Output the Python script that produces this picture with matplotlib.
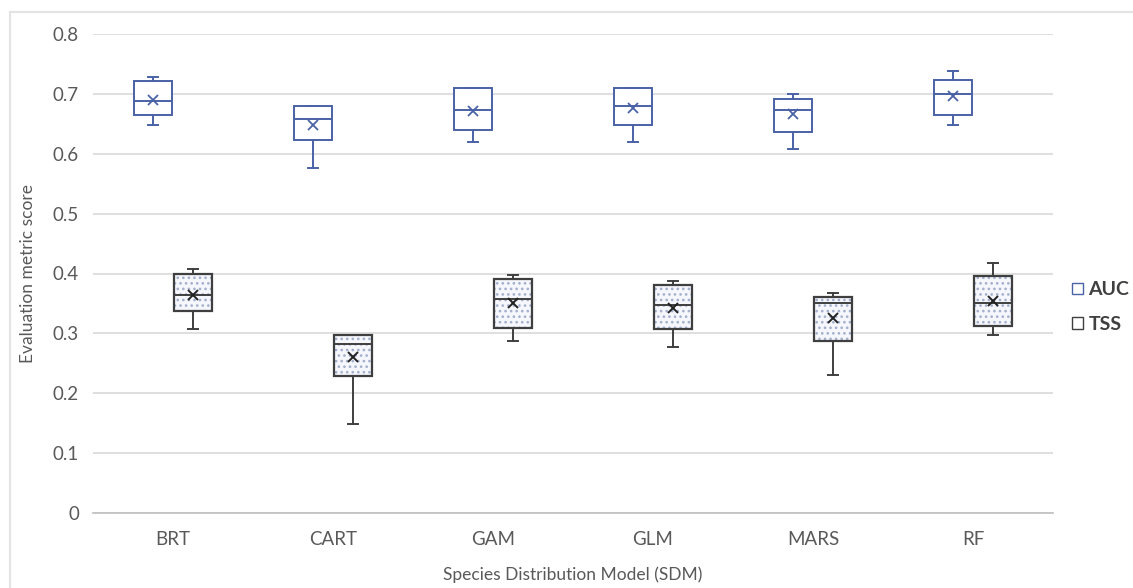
import matplotlib
matplotlib.use("Agg")
import matplotlib.pyplot as plt
from matplotlib.patches import Patch
from matplotlib.lines import Line2D
import matplotlib as mpl

plt.rcParams['font.family'] = ['Lato', 'DejaVu Sans']
mpl.rcParams['hatch.linewidth'] = 1.1

categories = ["BRT", "CART", "GAM", "GLM", "MARS", "RF"]

auc_whislo = [0.648, 0.577, 0.619, 0.619, 0.608, 0.648]
auc_q1     = [0.664, 0.623, 0.640, 0.648, 0.637, 0.664]
auc_med    = [0.688, 0.658, 0.673, 0.680, 0.673, 0.699]
auc_q3     = [0.722, 0.679, 0.709, 0.709, 0.691, 0.723]
auc_whishi = [0.729, 0.679, 0.709, 0.709, 0.699, 0.738]
auc_mean   = [0.690, 0.648, 0.672, 0.676, 0.666, 0.697]

tss_whislo = [0.307, 0.148, 0.288, 0.277, 0.230, 0.298]
tss_q1     = [0.337, 0.229, 0.309, 0.307, 0.288, 0.312]
tss_med    = [0.364, 0.283, 0.358, 0.348, 0.350, 0.351]
tss_q3     = [0.400, 0.297, 0.390, 0.381, 0.360, 0.396]
tss_whishi = [0.408, 0.297, 0.398, 0.387, 0.367, 0.418]
tss_mean   = [0.364, 0.261, 0.351, 0.343, 0.326, 0.354]

yticks = [0, 0.1, 0.2, 0.3, 0.4, 0.5, 0.6, 0.7, 0.8]
ytick_labels = ["0", "0.1", "0.2", "0.3", "0.4", "0.5", "0.6", "0.7", "0.8"]

W, H = 1133, 588
fig = plt.figure(figsize=(W/100, H/100), dpi=100)
fig.patch.set_facecolor("white")
# chart-area border (top and left edges visible in the reference)
fig.add_artist(Line2D([10/W, 1], [1 - 12/H, 1 - 12/H], transform=fig.transFigure,
                      color="#e3e3e3", linewidth=1.5))
fig.add_artist(Line2D([10/W, 10/W], [0, 1 - 12/H], transform=fig.transFigure,
                      color="#e3e3e3", linewidth=1.5))

ax = fig.add_axes([93/W, 1 - 513/H, 960/W, (513 - 34)/H])

def stats(wl, q1, med, q3, wh, mn):
    return [dict(whislo=a, q1=b, med=c, q3=d, whishi=e, mean=f)
            for a, b, c, d, e, f in zip(wl, q1, med, q3, wh, mn)]

auc_stats = stats(auc_whislo, auc_q1, auc_med, auc_q3, auc_whishi, auc_mean)
tss_stats = stats(tss_whislo, tss_q1, tss_med, tss_q3, tss_whishi, tss_mean)

n = len(categories)
off = 0.125
bw = 0.24
capw = 0.06

auc_col = "#4a62a6"
tss_col = "#3f3f3f"

ax.bxp(auc_stats, positions=[i - off for i in range(n)], widths=bw,
       showmeans=True, patch_artist=True, showfliers=False, capwidths=capw,
       boxprops=dict(facecolor="white", edgecolor=auc_col, linewidth=1.4),
       medianprops=dict(color=auc_col, linewidth=1.4),
       whiskerprops=dict(color=auc_col, linewidth=1.4),
       capprops=dict(color=auc_col, linewidth=1.4),
       meanprops=dict(marker="x", markeredgecolor=auc_col, markersize=7, markeredgewidth=1.3),
       zorder=3)

tb = ax.bxp(tss_stats, positions=[i + off for i in range(n)], widths=bw,
       showmeans=True, patch_artist=True, showfliers=False, capwidths=capw,
       boxprops=dict(facecolor="#f5f7fc", edgecolor=tss_col, linewidth=1.6),
       medianprops=dict(color=tss_col, linewidth=1.4),
       whiskerprops=dict(color=tss_col, linewidth=1.4),
       capprops=dict(color=tss_col, linewidth=1.4),
       meanprops=dict(marker="x", markeredgecolor="#222222", markersize=7, markeredgewidth=1.4),
       zorder=3)
for b in tb["boxes"]:
    b.set_hatch("...")
    b._hatch_color = mpl.colors.to_rgba("#a3afcc")

ax.set_xlim(-0.5, n - 0.5)
ax.set_ylim(0, 0.8)
ax.set_yticks(yticks)
ax.set_yticklabels(ytick_labels)
ax.set_xticks(range(n))
ax.set_xticklabels(categories)
ax.grid(axis="y", color="#d9d9d9", linewidth=1.2, zorder=0)
ax.set_axisbelow(True)
for s in ["top", "right", "left"]:
    ax.spines[s].set_visible(False)
ax.spines["bottom"].set_color("#bfbfbf")
ax.spines["bottom"].set_linewidth(1.2)
ax.tick_params(axis="both", length=0, labelsize=13.5, colors="#595959", pad=10)
ax.tick_params(axis="x", pad=13)

ax.set_xlabel("Species Distribution Model (SDM)", fontsize=12.5, color="#595959", labelpad=13)
ax.set_ylabel("Evaluation metric score", fontsize=12.5, color="#595959", labelpad=12)

handles = [Patch(facecolor="white", edgecolor=auc_col, linewidth=1.0, label="AUC"),
           Patch(facecolor="white", edgecolor=tss_col, linewidth=1.0, label="TSS")]
leg = ax.legend(handles=handles, loc="center left", bbox_to_anchor=(0.0198 + 1, 0.43),
                frameon=False, fontsize=14, handlelength=0.55, handleheight=0.55,
                handletextpad=0.3, labelspacing=0.9, borderaxespad=0, borderpad=0)
for t in leg.get_texts():
    t.set_fontweight("bold")
    t.set_color("#404040")

fig.savefig("out.png", dpi=100, facecolor="white")
